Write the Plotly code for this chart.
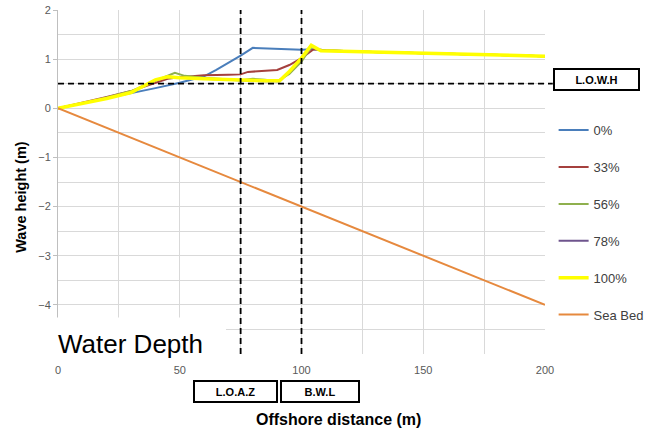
import plotly.graph_objects as go

# ---- data ----
x_0 = [0, 10, 20, 30, 40, 50, 60, 65, 70, 75, 80, 90, 100, 105, 110, 125, 150, 175, 200]
y_0 = [0, 0.1, 0.2, 0.3, 0.41, 0.52, 0.65, 0.78, 0.92, 1.07, 1.23, 1.21, 1.19, 1.2, 1.18, 1.15, 1.12, 1.09, 1.06]

x_33 = [0, 10, 20, 30, 40, 45, 50, 60, 70, 75, 78, 85, 90, 95, 100, 105, 110, 125, 150, 175, 200]
y_33 = [0, 0.11, 0.23, 0.35, 0.52, 0.6, 0.63, 0.67, 0.68, 0.69, 0.74, 0.76, 0.78, 0.88, 1.02, 1.2, 1.18, 1.15, 1.12, 1.09, 1.06]

x_56 = [0, 10, 20, 30, 40, 48, 52, 60, 75, 80, 85, 90, 95, 100, 104, 108, 125, 150, 175, 200]
y_56 = [0, 0.1, 0.22, 0.35, 0.56, 0.72, 0.66, 0.62, 0.57, 0.6, 0.58, 0.55, 0.7, 0.95, 1.25, 1.18, 1.15, 1.12, 1.09, 1.06]

x_78 = [0, 10, 20, 30, 40, 45, 50, 60, 75, 85, 91, 95, 100, 104, 108, 125, 150, 175, 200]
y_78 = [0, 0.1, 0.21, 0.33, 0.57, 0.63, 0.62, 0.6, 0.56, 0.55, 0.55, 0.74, 1.0, 1.26, 1.17, 1.15, 1.12, 1.09, 1.06]

x_100 = [0, 10, 20, 30, 40, 45, 50, 60, 75, 85, 91, 95, 100, 104, 108, 125, 150, 175, 200]
y_100 = [0, 0.1, 0.2, 0.32, 0.58, 0.64, 0.62, 0.6, 0.57, 0.56, 0.56, 0.75, 1.02, 1.28, 1.17, 1.15, 1.12, 1.09, 1.06]

x_bed = [0, 200]
y_bed = [0, -4]

series_names = ["0%", "33%", "56%", "78%", "100%", "Sea Bed"]
series_x = [x_0, x_33, x_56, x_78, x_100, x_bed]
series_y = [y_0, y_33, y_56, y_78, y_100, y_bed]
series_colors = ["#4A7EBB", "#A5403D", "#8FB04E", "#6E548D", "#FFFF00", "#E6893E"]
series_widths = [2, 2, 2, 2, 3.5, 2]

y_ticks = [-4, -3, -2, -1, 0, 1, 2]
y_minor = [-4.5, -3.5, -2.5, -1.5, -0.5, 0.5, 1.5]
x_ticks = [0, 50, 100, 150, 200]
x_minor = [25, 75, 125, 175]

FONT = "Liberation Sans, Arial, sans-serif"

fig = go.Figure()
for name, xs, ys, c, w in zip(series_names, series_x, series_y, series_colors, series_widths):
    fig.add_trace(go.Scatter(x=xs, y=ys, mode="lines", name=name, legendgroup=name,
                             line=dict(color=c, width=w)))

# dashed reference lines
fig.add_shape(type="line", xref="paper", yref="y", x0=0, x1=1.016, y0=0.5, y1=0.5,
              line=dict(color="black", width=1.8, dash="6px,4px"))
for xv in [75, 100]:
    fig.add_shape(type="line", xref="x", yref="paper", x0=xv, x1=xv, y0=0, y1=1,
                  line=dict(color="black", width=1.8, dash="6px,4px"))

# white patch behind "Water Depth"
fig.add_shape(type="rect", xref="paper", yref="paper", x0=-0.0616, x1=0.345, y0=-0.007, y1=0.106,
              fillcolor="white", line=dict(width=0), layer="above")

fig.add_annotation(text="Water Depth", xref="paper", yref="paper", x=-0.004, y=0.03,
                   xanchor="left", yanchor="middle", showarrow=False,
                   font=dict(family=FONT, size=26, color="black"))

boxes = [("L.O.A.Z", 0.3645, -0.110, 81, 19), ("B.W.L", 0.538, -0.110, 76, 19),
         ("L.O.W.H", 1.106, 0.798, 83, 19)]
for txt, bx, by, bw, bh in boxes:
    fig.add_annotation(text="<b>" + txt + "</b>", xref="paper", yref="paper", x=bx, y=by,
                       xanchor="center", yanchor="middle", showarrow=False,
                       width=bw, height=bh, borderpad=0, borderwidth=2, bordercolor="black",
                       bgcolor="white", font=dict(family=FONT, size=11, color="black"))

# axis titles (placed where the reference has them)
fig.add_annotation(text="<b>Offshore distance (m)</b>", xref="paper", yref="paper",
                   x=0.575, y=-0.19, xanchor="center", yanchor="middle", showarrow=False,
                   font=dict(family=FONT, size=16, color="black"))
fig.add_annotation(text="<b>Wave height (m)</b>", xref="paper", yref="paper",
                   x=-0.076, y=0.457, xanchor="center", yanchor="middle", showarrow=False,
                   textangle=-90, font=dict(family=FONT, size=14.5, color="black"))

fig.update_layout(
    width=646, height=428,
    margin=dict(l=58, r=101, t=10, b=73.5),
    paper_bgcolor="white", plot_bgcolor="white",
    font=dict(family=FONT, color="#404040"),
    showlegend=True,
    legend=dict(xref="container", yref="container", x=0.857, y=0.731,
                xanchor="left", yanchor="top", tracegroupgap=17,
                font=dict(family=FONT, size=13, color="#404040"), itemwidth=30,
                bgcolor="rgba(0,0,0,0)"),
    xaxis=dict(range=[0, 200], tickvals=x_ticks, showgrid=True, gridcolor="#D9D9D9", gridwidth=1,
               minor=dict(tickvals=x_minor, showgrid=True, gridcolor="#D9D9D9", gridwidth=1),
               zeroline=False, showline=False, ticks="outside", ticklen=6, tickcolor="rgba(0,0,0,0)",
               tickfont=dict(size=11, color="#595959"), automargin=False),
    yaxis=dict(range=[-5, 2], tickvals=y_ticks, showgrid=True, gridcolor="#D9D9D9", gridwidth=1,
               minor=dict(tickvals=y_minor, showgrid=True, gridcolor="#D9D9D9", gridwidth=1),
               zeroline=False, showline=True, linecolor="#BFBFBF", linewidth=1,
               ticks="outside", ticklen=4, tickcolor="#BFBFBF", automargin=False,
               tickfont=dict(size=11, color="#595959")),
)

fig.write_html("out.html")
